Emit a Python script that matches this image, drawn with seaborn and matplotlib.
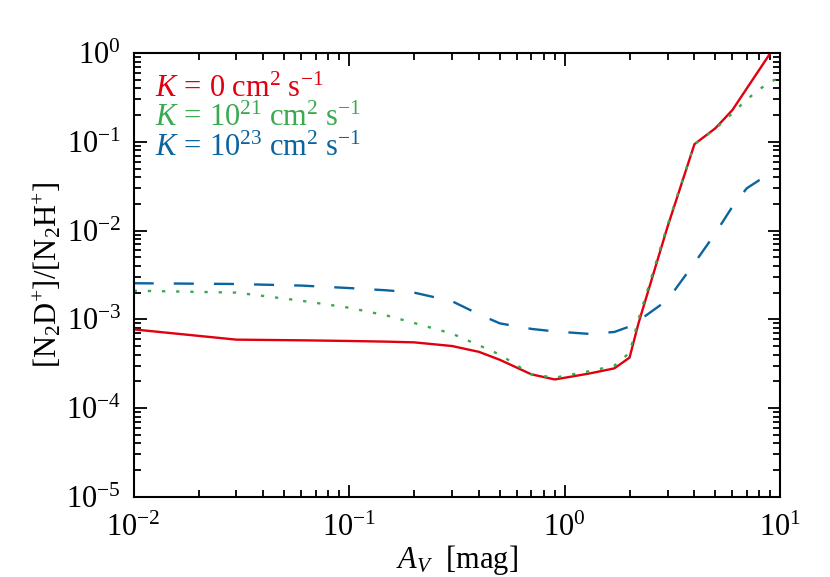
import numpy as np
import pandas as pd
import matplotlib
matplotlib.use("Agg")
import matplotlib.pyplot as plt
import seaborn as sns

# A_V grid [mag]
av = [0.01, 0.03, 0.06, 0.1, 0.15, 0.2, 0.3, 0.4, 0.5, 0.7, 0.9, 1.3, 1.7,
      2.0, 2.2, 3.0, 4.0, 5.0, 6.0, 7.0, 8.0, 9.0, 10.0]

# [N2D+]/[N2H+] for each diffusion coefficient
ratio_k0 = [7.7e-4, 5.9e-4, 5.8e-4, 5.7e-4, 5.6e-4, 5.5e-4, 5.0e-4, 4.3e-4, 3.5e-4,
            2.4e-4, 2.1e-4, 2.45e-4, 2.8e-4, 3.7e-4, 9.0e-4, 1.1e-2, 9.4e-2, 0.142,
            0.228, 0.40, 0.65, 1.0, 1.35]
ratio_k21 = [2.1e-3, 2.0e-3, 1.62e-3, 1.35e-3, 1.1e-3, 9.1e-4, 6.9e-4, 5.1e-4, 4.0e-4,
             2.4e-4, 2.2e-4, 2.6e-4, 3.0e-4, 4.2e-4, 1.0e-3, 1.15e-2, 9.4e-2, 0.14,
             0.21, 0.30, 0.39, 0.475, 0.53]
ratio_k23 = [2.55e-3, 2.5e-3, 2.4e-3, 2.25e-3, 2.12e-3, 2.0e-3, 1.6e-3, 1.14e-3, 9.0e-4,
             7.8e-4, 7.3e-4, 6.85e-4, 7.2e-4, 8.3e-4, 9.6e-4, 1.65e-3, 4.3e-3, 9.3e-3,
             1.86e-2, 3.0e-2, 3.7e-2, 4.0e-2, 4.1e-2]

labels = [r"$K\,=\,0\ \mathrm{cm}^{2}\ \mathrm{s}^{-1}$",
          r"$K\,=\,10^{21}\ \mathrm{cm}^{2}\ \mathrm{s}^{-1}$",
          r"$K\,=\,10^{23}\ \mathrm{cm}^{2}\ \mathrm{s}^{-1}$"]
colors = ["#e0000f", "#3aaa50", "#0a64a0"]

df = pd.DataFrame({
    "Av": av * 3,
    "ratio": ratio_k0 + ratio_k21 + ratio_k23,
    "model": [labels[0]] * len(av) + [labels[1]] * len(av) + [labels[2]] * len(av),
})

sns.set_style("ticks")
plt.rcParams["font.family"] = ["Liberation Serif", "DejaVu Serif"]
plt.rcParams["mathtext.fontset"] = "custom"
plt.rcParams["mathtext.rm"] = "Liberation Serif"
plt.rcParams["mathtext.it"] = "Liberation Serif:italic"
plt.rcParams["mathtext.bf"] = "Liberation Serif:bold"
plt.rcParams["text.color"] = "black"
plt.rcParams["axes.labelcolor"] = "black"
plt.rcParams["xtick.color"] = "black"
plt.rcParams["ytick.color"] = "black"
plt.rcParams["axes.edgecolor"] = "black"

fig = plt.figure(figsize=(8.3, 5.77), dpi=100)
ax = fig.add_axes([0.161, 0.139, 0.779, 0.769])

sns.lineplot(data=df, x="Av", y="ratio", hue="model", style="model",
             palette=dict(zip(labels, colors)),
             dashes={labels[0]: "", labels[1]: (1.4, 4.6), labels[2]: (8.5, 8.5)},
             linewidth=1.7, sort=True, ax=ax)

ax.set_xscale("log")
ax.set_yscale("log")
ax.set_xlim(1e-2, 1e1)
ax.set_ylim(1e-5, 1e0)

ax.set_xlabel(r"$A_V$  [mag]", fontsize=22, labelpad=0)
ax.set_ylabel(r"[N$_2$D$^{+}$]/[N$_2$H$^{+}$]", fontsize=22, labelpad=2)

ax.tick_params(which="both", direction="in", top=True, right=True, width=1.3)
ax.tick_params(which="major", length=9, labelsize=22)
ax.tick_params(axis="y", which="major", pad=9)
ax.tick_params(axis="x", which="major", pad=12)
ax.tick_params(which="minor", length=5)
ax.xaxis.set_minor_locator(matplotlib.ticker.LogLocator(base=10, subs=np.arange(2, 10)))
ax.yaxis.set_minor_locator(matplotlib.ticker.LogLocator(base=10, subs=np.arange(2, 10)))
ax.xaxis.set_minor_formatter(matplotlib.ticker.NullFormatter())
ax.yaxis.set_minor_formatter(matplotlib.ticker.NullFormatter())
for sp in ax.spines.values():
    sp.set_linewidth(1.5)

ax.legend(loc="upper left", frameon=False, handlelength=0, handletextpad=0,
          labelcolor="linecolor", fontsize=22, borderaxespad=0.3,
          labelspacing=0.02)
for h in ax.get_legend().legend_handles:
    h.set_visible(False)

fig.savefig("out.png", dpi=100)
